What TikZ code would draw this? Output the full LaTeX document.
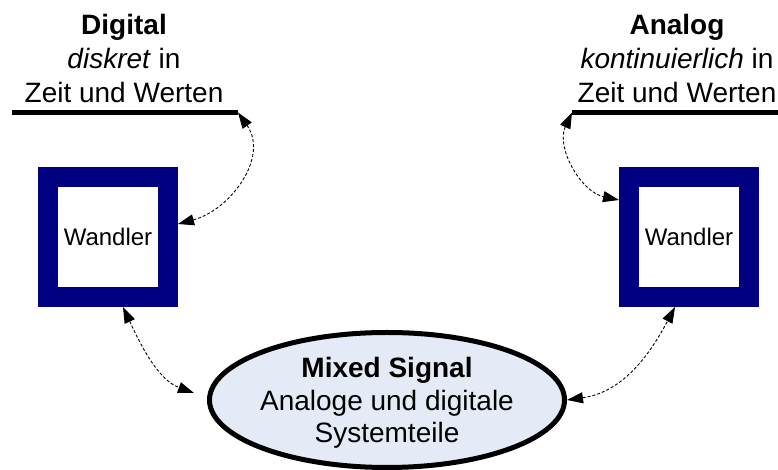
\documentclass[tikz,border=0pt]{standalone}
\usepackage{fontspec}
\setmainfont{Liberation Sans}
\usetikzlibrary{arrows.meta,shapes.geometric,calc}
\definecolor{boxnavy}{RGB}{0,0,128}
\definecolor{ellfill}{RGB}{228,234,246}
\begin{document}
\begin{tikzpicture}[x=1pt,y=1pt,
  domline/.style={line width=5pt},
  headtxt/.style={align=center,inner sep=0pt,anchor=south,
    font=\fontsize{28}{34}\selectfont},
  wandler/.style={draw=boxnavy,line width=20pt,fill=white,
    minimum size=120pt,inner sep=0pt,font=\fontsize{24}{28}\selectfont},
  mixed/.style={ellipse,draw=black,line width=5pt,fill=ellfill,
    minimum width=355pt,minimum height=135pt,inner sep=0pt,align=center,
    font=\fontsize{28}{32.5}\selectfont},
  conn/.style={densely dashed,line width=0.9pt,
    {Triangle[length=16pt,width=11pt]}-{Triangle[length=16pt,width=11pt]}}]
\useasboundingbox (0,0) rectangle (778,470);

% Digital side
\coordinate (dl1) at (12,357.5);
\coordinate (dl2) at (238,357.5);
\draw[domline] (dl1) -- (dl2);
\node[headtxt] (dtext) at (124,367) {\textbf{Digital}\\\textit{diskret} in\\Zeit und Werten};

% Analog side
\coordinate (al1) at (572,357.5);
\coordinate (al2) at (778,357.5);
\draw[domline] (al1) -- (al2);
\node[headtxt] (atext) at (677,367) {\textbf{Analog}\\\textit{kontinuierlich} in\\Zeit und Werten};

% converters
\node[wandler] (wl) at (108,233) {Wandler};
\node[wandler] (wr) at (689,233) {Wandler};

% mixed-signal system
\node[mixed] (ms) at (387,70) {};
\node[align=center,inner sep=0pt,font=\fontsize{28}{32.5}\selectfont]
  (mstext) at ($(ms.center)+(0,-3)$) {\textbf{Mixed Signal}\\Analoge und digitale\\Systemteile};

% links
\draw[conn] (dl2) to[out=-55,in=15,looseness=1.1] ($(wl.east)+(0,13)$);
\draw[conn] (al1) to[out=-115,in=168,looseness=1.0] ($(wr.west)+(0,37)$);
\draw[conn] ($(wl.south)+(15,0)$) to[out=-65,in=160,looseness=0.9] ($(ms.west)+(-13,7)$);
\draw[conn] (ms.east) to[out=8,in=-118,looseness=1.0] ($(wr.south)+(-14,0)$);
\end{tikzpicture}
\end{document}
